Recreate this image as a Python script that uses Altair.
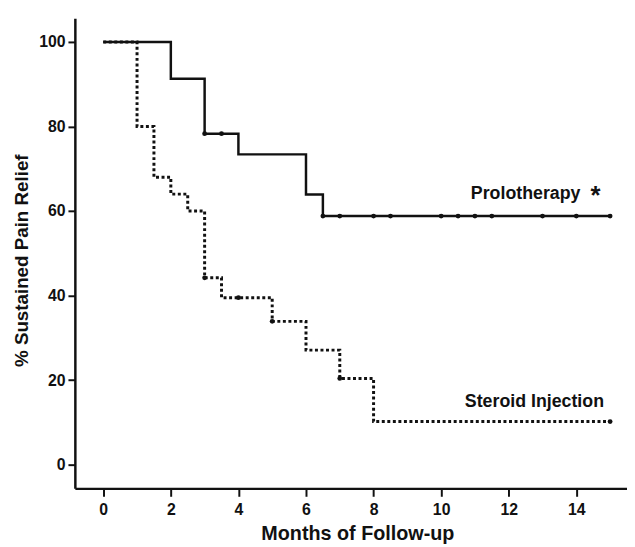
import altair as alt
import pandas as pd

# Kaplan-Meier step data (months, % sustained pain relief)
prolo_months = [0, 2, 3, 4, 6, 6.5, 15]
prolo_pct = [100, 91.3, 78.3, 73.4, 63.9, 58.8, 58.8]
prolo_cens_months = [3, 3.5, 6.5, 7, 8, 8.5, 10, 10.5, 11, 11.5, 13, 14, 15]
prolo_cens_pct = [78.3, 78.3, 58.8, 58.8, 58.8, 58.8, 58.8, 58.8, 58.8, 58.8, 58.8, 58.8, 58.8]

ster_months = [0, 1, 1.5, 2, 2.5, 3, 3.5, 5, 6, 7, 8, 15]
ster_pct = [100, 80, 68, 64, 60, 44.2, 39.5, 33.9, 27.1, 20.4, 10.2, 10.2]
ster_cens_months = [3, 4, 5, 7, 15]
ster_cens_pct = [44.2, 39.5, 33.9, 20.4, 10.2]

x_ticks = [0, 2, 4, 6, 8, 10, 12, 14]
y_ticks = [0, 20, 40, 60, 80, 100]

FONT = "Liberation Sans"
INK = "#111111"

prolo = pd.DataFrame({"m": prolo_months, "p": prolo_pct})
prolo_c = pd.DataFrame({"m": prolo_cens_months, "p": prolo_cens_pct})
ster = pd.DataFrame({"m": ster_months, "p": ster_pct})
ster_c = pd.DataFrame({"m": ster_cens_months, "p": ster_cens_pct})

xs = alt.Scale(domain=[-0.84, 15.5], nice=False, zero=False)
ys = alt.Scale(domain=[-5.6, 105.6], nice=False, zero=False)

xax = alt.Axis(values=x_ticks, title="Months of Follow-up", grid=False,
               domainColor=INK, domainWidth=2.5, tickColor=INK, tickWidth=2,
               tickSize=8, labelPadding=5, labelFont=FONT, labelFontSize=16,
               labelFontWeight="bold", labelColor=INK, titleFont=FONT,
               titleFontSize=20, titleFontWeight="bold", titleColor=INK,
               titleX=286, titleY=52, titleBaseline="alphabetic", titleAnchor="middle")
yax = alt.Axis(values=y_ticks, title="% Sustained Pain Relief", grid=False,
               domainColor=INK, domainWidth=2.5, tickColor=INK, tickWidth=2,
               tickSize=7, labelPadding=3, labelFont=FONT, labelFontSize=16,
               labelFontWeight="bold", labelColor=INK, titleFont=FONT,
               titleFontSize=19, titleFontWeight="bold", titleColor=INK,
               titleX=-54, titleY=245, titleBaseline="middle", titleAnchor="middle")

X = alt.X("m:Q", scale=xs, axis=xax)
Y = alt.Y("p:Q", scale=ys, axis=yax)

ster_line = alt.Chart(ster).mark_line(interpolate="step-after", color=INK,
                                      strokeWidth=3, strokeDash=[3, 2.6]).encode(x=X, y=Y)
prolo_line = alt.Chart(prolo).mark_line(interpolate="step-after", color=INK,
                                        strokeWidth=2.5).encode(x="m:Q", y="p:Q")
prolo_pts = alt.Chart(prolo_c).mark_point(filled=True, color=INK, size=24, opacity=1).encode(x="m:Q", y="p:Q")
ster_pts = alt.Chart(ster_c).mark_point(filled=True, color=INK, size=24, opacity=1).encode(x="m:Q", y="p:Q")

lab1 = alt.Chart(pd.DataFrame({"t": ["Prolotherapy"]})).mark_text(
    font=FONT, fontSize=18, fontWeight="bold", color=INK, align="center", baseline="alphabetic"
).encode(x=alt.datum(12.5), y=alt.datum(62.85), text="t:N")
star = alt.Chart(pd.DataFrame({"t": ["*"]})).mark_text(
    font=FONT, fontSize=26, fontWeight="bold", color=INK, align="center", baseline="alphabetic"
).encode(x=alt.datum(14.57), y=alt.datum(61.75), text="t:N")
lab2 = alt.Chart(pd.DataFrame({"t": ["Steroid Injection"]})).mark_text(
    font=FONT, fontSize=18, fontWeight="bold", color=INK, align="center", baseline="alphabetic"
).encode(x=alt.datum(12.76), y=alt.datum(13.6), text="t:N")

chart = alt.layer(ster_line, prolo_line, prolo_pts, ster_pts, lab1, star, lab2).properties(
    width=559, height=476,
    autosize=alt.AutoSizeParams(type="none"),
    padding={"left": 67.7, "top": 7, "right": 0, "bottom": 56},
    background="white",
).configure_view(stroke=None)

chart.save("out.html", embed_options={"renderer": "svg", "actions": False})
